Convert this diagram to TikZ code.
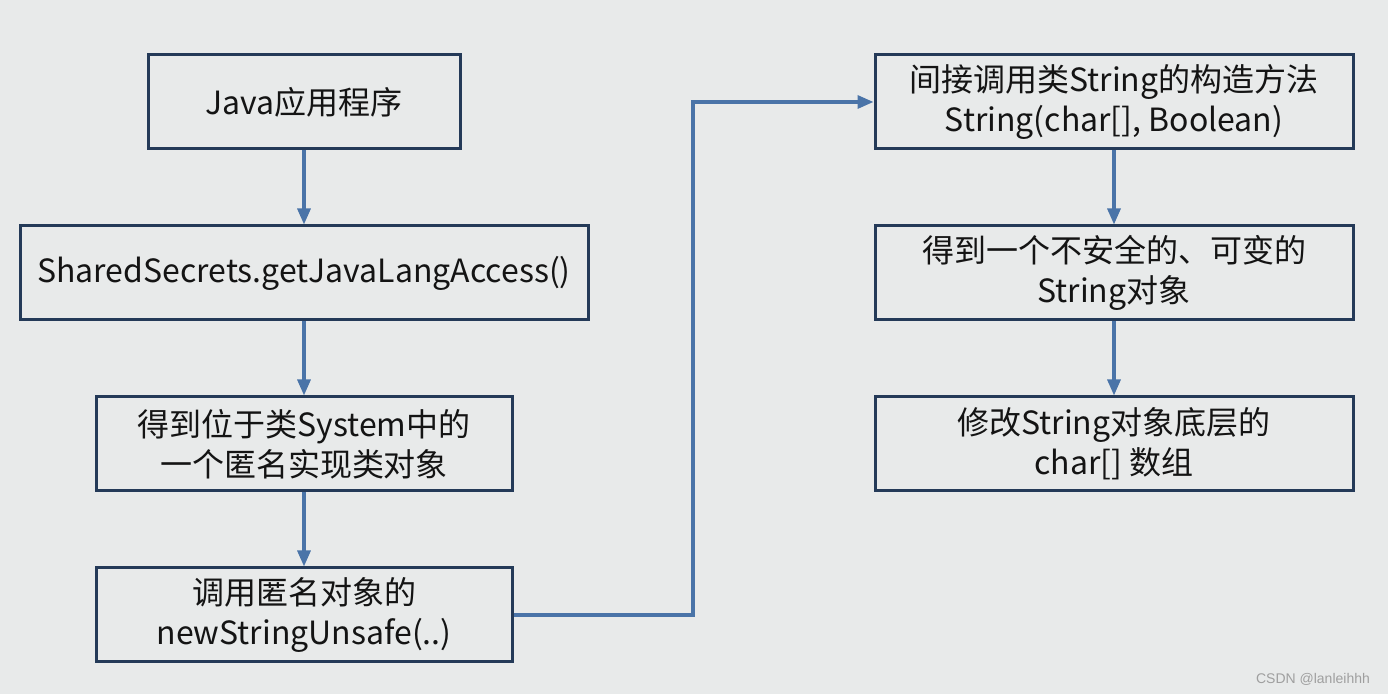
\documentclass[tikz,border=0pt]{standalone}
\usepackage{fontspec}
\setmainfont{Noto Sans CJK SC}
\newfontfamily\markfont{Liberation Sans}
\usepackage{tikz}
\usetikzlibrary{arrows.meta,positioning}

\definecolor{bgGray}{HTML}{E8EAEA}
\definecolor{boxLine}{HTML}{243A58}
\definecolor{flowBlue}{HTML}{4A74A8}
\definecolor{txtDark}{HTML}{141414}

\begin{document}
\begin{tikzpicture}[node distance=37pt,
  box/.style={draw=boxLine, line width=1.5pt, fill=bgGray, align=center, text=txtDark,
    font=\fontsize{16pt}{20pt}\selectfont, minimum height=47pt, inner sep=2pt},
  flow/.style={draw=flowBlue, line width=1.6pt, -{Triangle[length=8pt,width=6.5pt]}},
  >=Stealth]
\fill[bgGray] (0,0) rectangle (694pt,347pt);
\useasboundingbox (0,0) rectangle (694pt,347pt);
% left column
\node[box, minimum width=156pt] (A) at (152pt,296pt) {Java应用程序};
\node[box, minimum width=284pt, below=of A] (B) {SharedSecrets.getJavaLangAccess()};
\node[box, minimum width=208pt, below=of B] (C) {得到位于类System中的\\一个匿名实现类对象};
\node[box, minimum width=208pt, below=of C] (D) {调用匿名对象的\\newStringUnsafe(..)};
% right column
\node[box, minimum width=239pt] (E) at (557pt,296pt) {间接调用类String的构造方法\\String(char[], Boolean)};
\node[box, minimum width=239pt, below=of E] (F) {得到一个不安全的、可变的\\String对象};
\node[box, minimum width=239pt, below=of F] (G) {修改String对象底层的\\char[] 数组};
\coordinate (bend) at (346.5pt,0);
\node[text=gray!75, font=\markfont\fontsize{7pt}{8pt}\selectfont] (mark) at (656.5pt,7.5pt) {CSDN @lanleihhh};
\draw[flow] (A) -- (B);
\draw[flow] (B) -- (C);
\draw[flow] (C) -- (D);
\draw[flow] (D.east) -- (D.east -| bend) |- (E.west);
\draw[flow] (E) -- (F);
\draw[flow] (F) -- (G);
\end{tikzpicture}
\end{document}
